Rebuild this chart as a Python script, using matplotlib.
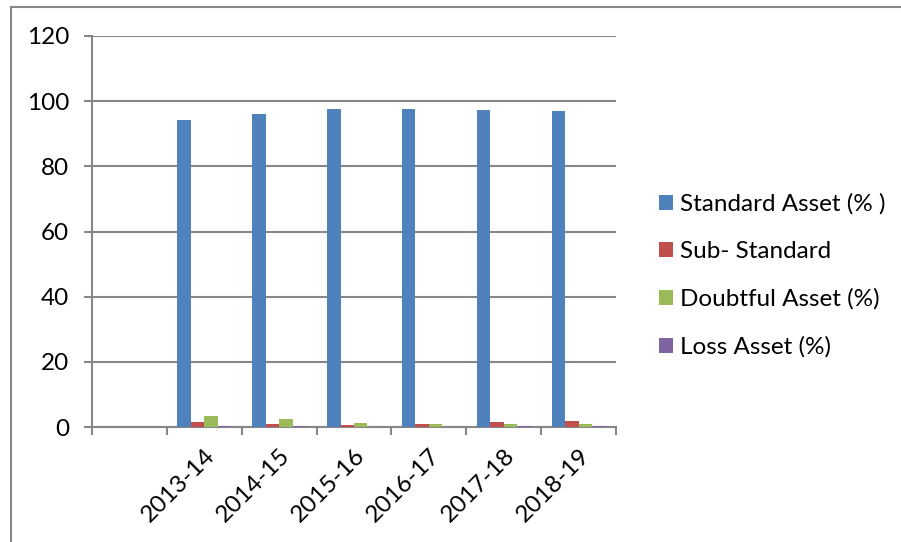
import matplotlib.pyplot as plt
from matplotlib.lines import Line2D
import numpy as np

# asset classification shares by year (%)
years = ["2013-14", "2014-15", "2015-16", "2016-17", "2017-18", "2018-19"]
standard = [94.2, 96.2, 97.5, 97.6, 97.3, 96.9]
sub_standard = [1.4, 0.9, 0.7, 1.0, 1.4, 1.8]
doubtful = [3.5, 2.4, 1.3, 0.9, 0.8, 0.9]
loss = [0.3, 0.2, 0.1, 0.1, 0.2, 0.2]

series = [("Standard Asset (% )", standard, "#4F81BD"),
          ("Sub- Standard", sub_standard, "#C0504D"),
          ("Doubtful Asset (%)", doubtful, "#9BBB59"),
          ("Loss Asset (%)", loss, "#8064A2")]

plt.rcParams["font.family"] = ["Lato", "DejaVu Sans"]
grey = "#878787"
fs = 17.5

fig = plt.figure(figsize=(9.01, 5.42), dpi=100)
ax = fig.add_axes([92 / 901, 1 - 427 / 542, 524 / 901, 391 / 542])

# first slot on the category axis is left empty
x = np.arange(1, len(years) + 1)
width = 0.18
for i, (name, vals, col) in enumerate(series):
    ax.bar(x + (i - 1.5) * width, vals, width, color=col, label=name,
           edgecolor="none", zorder=3)

ax.set_xlim(-0.5, len(years) + 0.5)
ax.set_ylim(0, 120)
ax.set_yticks(np.arange(0, 121, 20))
ax.yaxis.grid(True, color=grey, linewidth=1.5, zorder=0)

ax.set_xticks(x)
ax.set_xticklabels(years, rotation=45, ha="right", rotation_mode="anchor")
ax.set_xticks(np.arange(-0.5, len(years) + 1, 1), minor=True)
ax.tick_params(axis="x", which="major", length=0, pad=13, labelsize=fs)
ax.tick_params(axis="x", which="minor", length=5.5, width=1.5, color=grey)
ax.tick_params(axis="y", length=5.5, width=1.5, color=grey, pad=11,
               labelsize=fs)

for side in ["top", "right"]:
    ax.spines[side].set_visible(False)
for side in ["left", "bottom"]:
    ax.spines[side].set_color(grey)
    ax.spines[side].set_linewidth(1.5)

fig.legend(loc="center left", bbox_to_anchor=(659 / 901, 1 - 275.5 / 542),
           frameon=False, fontsize=fs, handlelength=0.58,
           handleheight=0.58, handletextpad=0.3, labelspacing=1.08,
           borderpad=0, borderaxespad=0)

# chart area border
fig.add_artist(Line2D([10.5 / 901, 10.5 / 901], [0, 1 - 6.5 / 542],
                      color=grey, linewidth=1.5))
fig.add_artist(Line2D([10.5 / 901, 1], [1 - 6.5 / 542, 1 - 6.5 / 542],
                      color=grey, linewidth=1.5))

fig.savefig("out.png", dpi=100)
